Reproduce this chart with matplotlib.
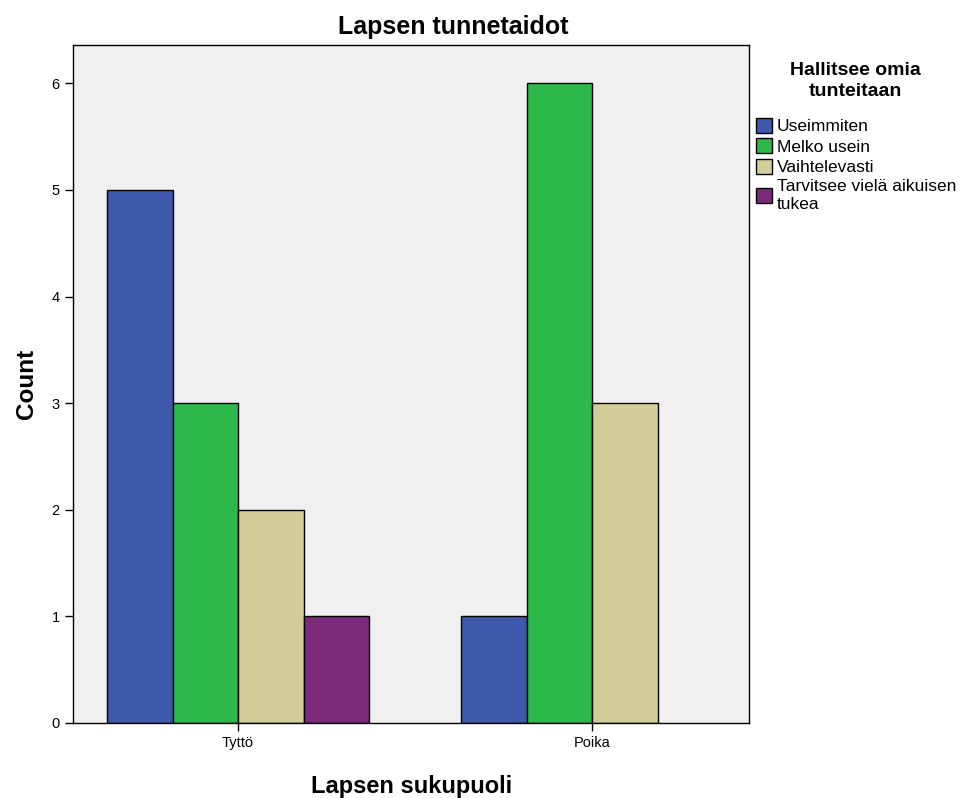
import numpy as np
import matplotlib.pyplot as plt

plt.rcParams['font.family'] = ['Liberation Sans', 'DejaVu Sans']

groups = ["Tyttö", "Poika"]
categories = ["Useimmiten", "Melko usein", "Vaihtelevasti", "Tarvitsee vielä aikuisen\ntukea"]
counts = [
    [5, 1],  # Useimmiten
    [3, 6],  # Melko usein
    [2, 3],  # Vaihtelevasti
    [1, 0],  # Tarvitsee vielä aikuisen tukea
]
colors = ["#3e58ac", "#2db84a", "#d3ce97", "#7b2a7b"]

fig = plt.figure(figsize=(9.66, 7.98), dpi=100)
ax = fig.add_axes([0.0756, 0.094, 0.70, 0.8496])
ax.set_facecolor("#f0f0f0")

x = np.arange(len(groups))
width = 0.185
offsets = (np.arange(len(categories)) - 1.5) * width

handles = []
for i, cat in enumerate(categories):
    vals = np.array(counts[i], dtype=float)
    # zero bars are left out
    mask = vals > 0
    b = ax.bar(x[mask] + offsets[i], vals[mask], width, color=colors[i],
               edgecolor="black", linewidth=1.0, label=cat, zorder=2)
    handles.append(b)

ax.set_xlim(-0.466, 1.443)
ax.set_ylim(0, 6.36)
ax.set_xticks(x)
ax.set_xticklabels(groups)
ax.set_yticks(range(0, 7))

ax.tick_params(axis="both", direction="out", length=6, width=1, labelsize=10.5, colors="black")
for s in ax.spines.values():
    s.set_linewidth(1.0)
    s.set_color("black")

ax.set_title("Lapsen tunnetaidot", fontsize=18, fontweight="bold", pad=8, x=0.562)
ax.set_xlabel("Lapsen sukupuoli", fontsize=17, fontweight="bold", labelpad=18)
ax.set_ylabel("Count", fontsize=17.5, fontweight="bold", labelpad=10)

# legend title drawn separately so it sits centered above the entries
fig.text(855 / 966, 1 - 62 / 798, "Hallitsee omia\ntunteitaan", ha="center", va="top",
         fontsize=14, fontweight="bold", multialignment="center", linespacing=1.3)

leg = fig.legend(handles=handles, labels=categories, loc="upper left",
                 bbox_to_anchor=(756 / 966, 1 - 118 / 798), frameon=False, fontsize=12.5,
                 handlelength=0.95, handleheight=0.95, handletextpad=0.25,
                 labelspacing=0.22, borderaxespad=0.0, borderpad=0.0)
for t in leg.get_texts():
    t.set_linespacing(1.3)

fig.savefig("out.png", dpi=100)
